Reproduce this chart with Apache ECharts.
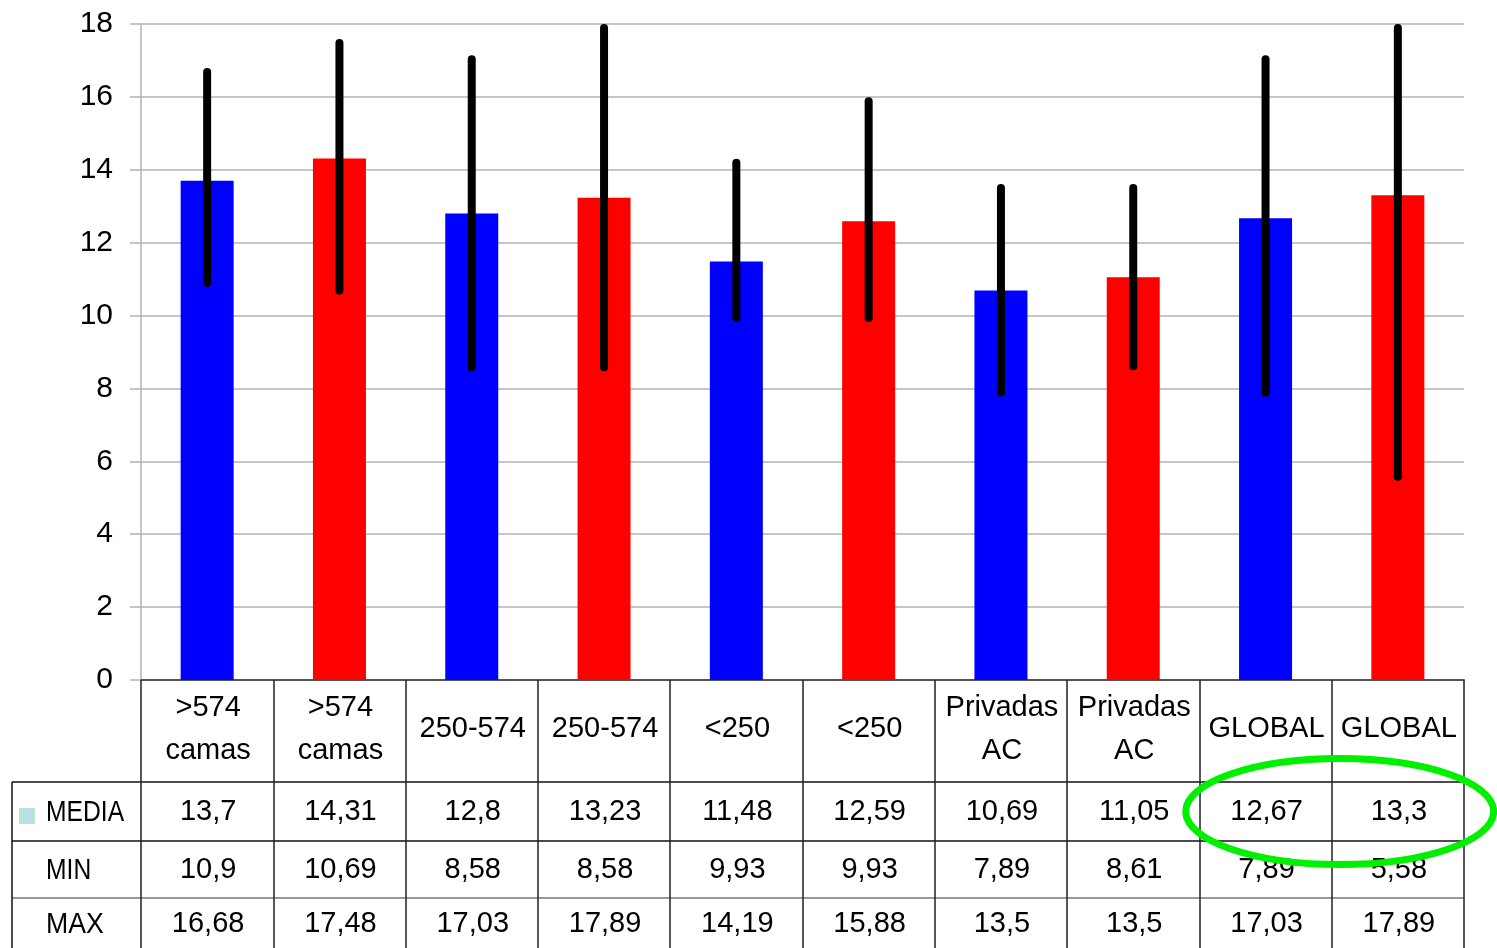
<!DOCTYPE html>
<html><head><meta charset="utf-8">
<script src="https://cdn.jsdelivr.net/npm/echarts@6/dist/echarts.min.js"></script>
<style>html,body{margin:0;padding:0;background:#fff}#c{width:1497px;height:948px}</style>
</head><body><div id="c"></div>
<script>
const categories = ['>574\ncamas','>574\ncamas','250-574','250-574','<250','<250','Privadas\nAC','Privadas\nAC','GLOBAL','GLOBAL'];
const mediaValues = [13.7,14.31,12.8,13.23,11.48,12.59,10.69,11.05,12.67,13.3];
const minValues = [10.9,10.69,8.58,8.58,9.93,9.93,7.89,8.61,7.89,5.58];
const maxValues = [16.68,17.48,17.03,17.89,14.19,15.88,13.5,13.5,17.03,17.89];
const rowLabels = ['MEDIA','MIN','MAX'];
const barColors = ['#0000ff','#ff0000'];
const yMin = 0, yMax = 18, yStep = 2;

const FONT = "'Liberation Sans', Arial, sans-serif";
const fmt = v => String(v).replace('.', ',');

const chart = echarts.init(document.getElementById('c'), null, {renderer: 'canvas'});
chart.setOption({
  animation: false,
  backgroundColor: '#fff',
  grid: {left: 141, right: 33, top: 24, bottom: 268, containLabel: false, outerBoundsMode: 'none'},
  xAxis: {
    type: 'category', data: categories, boundaryGap: true,
    axisLine: {show: true, lineStyle: {color: '#555', width: 2}},
    axisTick: {show: true, interval: 0, alignWithLabel: false, length: 268, lineStyle: {color: '#222', width: 1.5}},
    axisLabel: {show: false, interval: 0},
    splitLine: {show: false}
  },
  yAxis: {
    type: 'value', min: yMin, max: yMax, interval: yStep,
    axisLine: {show: true, lineStyle: {color: '#b3b3b3', width: 1.5}},
    axisTick: {show: true, length: 11, lineStyle: {color: '#b3b3b3', width: 1.5}},
    axisLabel: {color: '#000', fontSize: 30, fontFamily: FONT, margin: 28},
    splitLine: {show: true, lineStyle: {color: '#b3b3b3', width: 1.5}}
  },
  series: [
    {
      name: 'MEDIA', type: 'bar', barWidth: 53, z: 2,
      data: mediaValues.map((v, i) => ({value: v, itemStyle: {color: barColors[i % 2]}}))
    },
    {
      name: 'range', type: 'custom', z: 5,
      data: categories.map((c, i) => [i, minValues[i], maxValues[i]]),
      renderItem: (params, api) => {
        const lo = api.coord([api.value(0), api.value(1)]);
        const hi = api.coord([api.value(0), api.value(2)]);
        return {type: 'line', shape: {x1: lo[0], y1: lo[1], x2: hi[0], y2: hi[1]},
          style: {stroke: '#000', lineWidth: 8, lineCap: 'round'}};
      }
    }
  ]
});

// Table below the plot, positioned from the axis scale
const c0 = chart.convertToPixel({xAxisIndex: 0}, 0);
const c1 = chart.convertToPixel({xAxisIndex: 0}, 1);
const colW = c1 - c0;
const axisY = chart.convertToPixel({yAxisIndex: 0}, yMin);
const plotRight = c0 - colW / 2 + colW * categories.length;
const tableLeft = 12;
const headerBottom = axisY + 102;
const rowEdges = [headerBottom, headerBottom + 59, headerBottom + 116, 948];
const lineColors = ['#111', '#111', '#777'];
const g = [];
rowEdges.slice(0, 3).forEach((y, k) => {
  g.push({type: 'line', shape: {x1: tableLeft, y1: y, x2: plotRight, y2: y}, style: {stroke: lineColors[k], lineWidth: 1.5}});
});
g.push({type: 'line', shape: {x1: tableLeft, y1: headerBottom, x2: tableLeft, y2: 948}, style: {stroke: '#111', lineWidth: 1.5}});
categories.forEach((cat, i) => {
  const cx = chart.convertToPixel({xAxisIndex: 0}, i) + 1;
  g.push({type: 'text', x: cx, y: axisY + 49, style: {text: cat, font: '29px ' + FONT, fill: '#000', align: 'center', verticalAlign: 'middle', lineHeight: 43}});
  [mediaValues, minValues, maxValues].forEach((arr, r) => {
    const cy = (rowEdges[r] + rowEdges[r + 1]) / 2 + (r === 2 ? 1 : 0);
    g.push({type: 'text', x: cx, y: cy, style: {text: fmt(arr[i]), font: '29px ' + FONT, fill: '#000', align: 'center', verticalAlign: 'middle'}});
  });
});
rowLabels.forEach((lab, r) => {
  const cy = (rowEdges[r] + rowEdges[r + 1]) / 2 + (r === 2 ? 2 : 1);
  g.push({type: 'text', x: 46, y: cy, scaleX: r === 2 ? 0.92 : 0.85, style: {text: lab, font: '29px ' + FONT, fill: '#000', align: 'left', verticalAlign: 'middle'}});
});
g.push({type: 'rect', shape: {x: 19, y: rowEdges[0] + 26, width: 16, height: 16}, style: {fill: '#b9e0e4'}});
// green highlight ellipse around the GLOBAL media values
const gx = (chart.convertToPixel({xAxisIndex: 0}, 8) + chart.convertToPixel({xAxisIndex: 0}, 9)) / 2 + 8;
g.push({type: 'ellipse', z: 100, shape: {cx: gx, cy: (rowEdges[0] + rowEdges[1]) / 2, rx: 154, ry: 53}, style: {fill: null, stroke: '#00f000', lineWidth: 7}});
chart.setOption({graphic: g});
</script>
</body></html>
